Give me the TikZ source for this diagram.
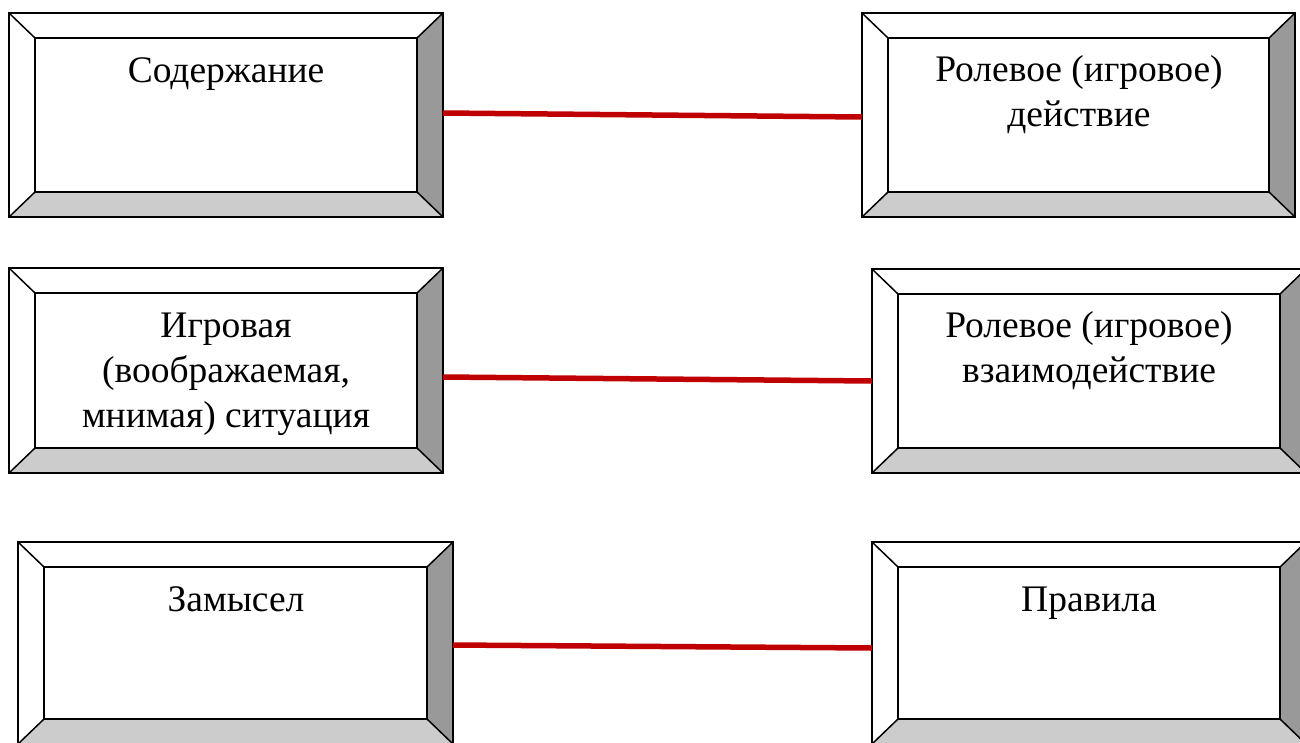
\documentclass[tikz,border=0pt]{standalone}
\usepackage{fontspec}
\setmainfont{Liberation Serif}
\usetikzlibrary{calc}
\definecolor{bevdark}{HTML}{999999}
\definecolor{bevlight}{HTML}{CCCCCC}
\definecolor{linkred}{HTML}{C00000}
\tikzset{
  bevelbox/.style={draw=none, minimum width=434pt, minimum height=204pt, inner sep=0pt, outer sep=0pt},
  bevedge/.style={draw=black, line width=1.5pt, line join=miter},
  label/.style={font=\fontsize{37.5}{45}\selectfont, align=center, anchor=base, inner sep=0pt},
  link/.style={draw=linkred, line width=5.5pt}
}
\newcommand{\drawbevel}[1]{%
  \coordinate (#1-A) at (#1.north west);
  \coordinate (#1-B) at (#1.north east);
  \coordinate (#1-C) at (#1.south east);
  \coordinate (#1-D) at (#1.south west);
  \coordinate (#1-a) at ($(#1.north west)+(26pt,-25pt)$);
  \coordinate (#1-b) at ($(#1.north east)+(-26pt,-25pt)$);
  \coordinate (#1-c) at ($(#1.south east)+(-26pt,25pt)$);
  \coordinate (#1-d) at ($(#1.south west)+(26pt,25pt)$);
  \fill[white] (#1-A) -- (#1-B) -- (#1-b) -- (#1-a) -- cycle;
  \fill[white] (#1-A) -- (#1-a) -- (#1-d) -- (#1-D) -- cycle;
  \fill[bevdark] (#1-B) -- (#1-C) -- (#1-c) -- (#1-b) -- cycle;
  \fill[bevlight] (#1-D) -- (#1-d) -- (#1-c) -- (#1-C) -- cycle;
  \draw[bevedge] (#1-a) rectangle (#1-c);
  \draw[bevedge] (#1-A) -- (#1-a) (#1-B) -- (#1-b) (#1-C) -- (#1-c) (#1-D) -- (#1-d);
  \draw[bevedge] (#1-A) rectangle (#1-C);
}
\begin{document}
\begin{tikzpicture}[x=1pt,y=1pt]
\path[use as bounding box, clip] (0,0) rectangle (1300,-742);
\fill[white] (0,0) rectangle (1300,-742);

\node[bevelbox, minimum width=434pt, minimum height=204pt] (b1) at (226,-115) {};
\node[bevelbox, minimum width=433pt, minimum height=204pt] (b2) at (1078.5,-115) {};
\node[bevelbox, minimum width=434pt, minimum height=205pt] (b3) at (226,-370.5) {};
\node[bevelbox, minimum width=434pt, minimum height=204pt] (b4) at (1089,-371) {};
\node[bevelbox, minimum width=435pt, minimum height=202pt] (b5) at (235.5,-643) {};
\node[bevelbox, minimum width=434pt, minimum height=202pt] (b6) at (1089,-643) {};

\drawbevel{b1}
\drawbevel{b2}
\drawbevel{b3}
\drawbevel{b4}
\drawbevel{b5}
\drawbevel{b6}

\node[label] (t1) at (226,-82) {Содержание};
\node[label, anchor=north] (t2) at (1079,-55) {Ролевое (игровое)\\действие};
\node[label, anchor=north] (t3) at (226,-313) {Игровая\\(воображаемая,\\мнимая) ситуация};
\node[label, anchor=north] (t4) at (1089,-311) {Ролевое (игровое)\\взаимодействие};
\node[label] (t5) at (236,-611) {Замысел};
\node[label] (t6) at (1089,-611) {Правила};

\draw[link] ([yshift=2pt]b1.east) -- ([yshift=-2pt]b2.west);
\draw[link] ([yshift=-6.5pt]b3.east) -- ([yshift=-10pt]b4.west);
\draw[link] ([yshift=-2pt]b5.east) -- ([yshift=-5pt]b6.west);
\end{tikzpicture}
\end{document}
